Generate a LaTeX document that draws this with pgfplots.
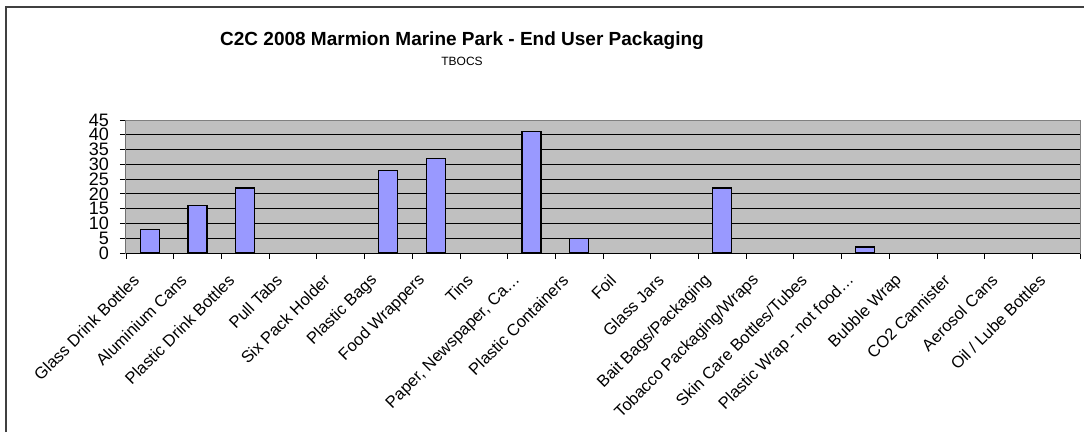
\documentclass[border=0pt]{standalone}
\usepackage{pgfplots}
\pgfplotsset{compat=1.18}
\usepackage{fontspec}
\setmainfont{Liberation Sans}
\definecolor{barblue}{HTML}{9999FF}
\definecolor{plotgray}{HTML}{C0C0C0}
\definecolor{framegray}{HTML}{404040}
\begin{document}
\begin{tikzpicture}[x=1pt,y=1pt]
\draw[line width=1.5pt, color=framegray] (6,0) -- (6,425) -- (1084,425);
\node[font=\fontsize{19}{22}\selectfont\bfseries, anchor=base, inner sep=0pt] at (462,386) {C2C 2008 Marmion Marine Park - End User Packaging};
\node[font=\fontsize{12}{14}\selectfont, anchor=base, inner sep=0pt] at (462,366) {TBOCS};
\begin{axis}[
  at={(126pt,179pt)}, anchor=south west, scale only axis,
  width=954pt, height=133pt,
  xmin=-0.5, xmax=19.5, ymin=0, ymax=45,
  ytick={0,5,...,45},
  ymajorgrids, major grid style={black, line width=0.8pt},
  xtick={0,...,19},
  xticklabels={Glass Drink Bottles, Aluminium Cans, Plastic Drink Bottles, Pull Tabs, Six Pack Holder, Plastic Bags, Food Wrappers, Tins, {Paper, Newspaper, Ca\ldots}, Plastic Containers, Foil, Glass Jars, Bait Bags/Packaging, Tobacco Packaging/Wraps, Skin Care Bottles/Tubes, {Plastic Wrap - not food\ldots}, Bubble Wrap, CO2 Cannister, Aerosol Cans, Oil / Lube Bottles},
  major x tick style={draw=none},
  minor xtick={-0.5,0.5,...,19.5},
  minor x tick style={black, line width=0.8pt},
  major y tick style={black, line width=0.8pt},
  tick pos=left,
  tick align=outside,
  major tick length=6pt, minor tick length=6pt,
  axis background/.style={fill=plotgray},
  axis line style={draw=gray, line width=1pt},
  xticklabel style={rotate=45, anchor=east, font=\fontsize{16.5}{16.5}\selectfont, inner sep=1pt, xshift=-21.9pt, yshift=-3.5pt},
  yticklabel style={font=\fontsize{18}{18}\selectfont, inner sep=1pt, xshift=-10pt},
  /pgf/number format/assume math mode=true,
]
\addplot[ybar, bar width=19pt, fill=barblue, draw=black, line width=1.2pt,
  y filter/.expression={y==0 ? nan : y}, unbounded coords=discard] coordinates {
(0,8) (1,16) (2,22) (3,0) (4,0) (5,28) (6,32) (7,0) (8,41) (9,5)
(10,0) (11,0) (12,22) (13,0) (14,0) (15,2) (16,0) (17,0) (18,0) (19,0)
};
\draw[black, line width=1pt] (rel axis cs:0,0) -- (rel axis cs:0,1);
\draw[black, line width=1pt] (rel axis cs:0,0) -- (rel axis cs:1,0);
\end{axis}
\pgfresetboundingbox
\path[use as bounding box] (0,0) rectangle (1084,432);
\end{tikzpicture}
\end{document}
